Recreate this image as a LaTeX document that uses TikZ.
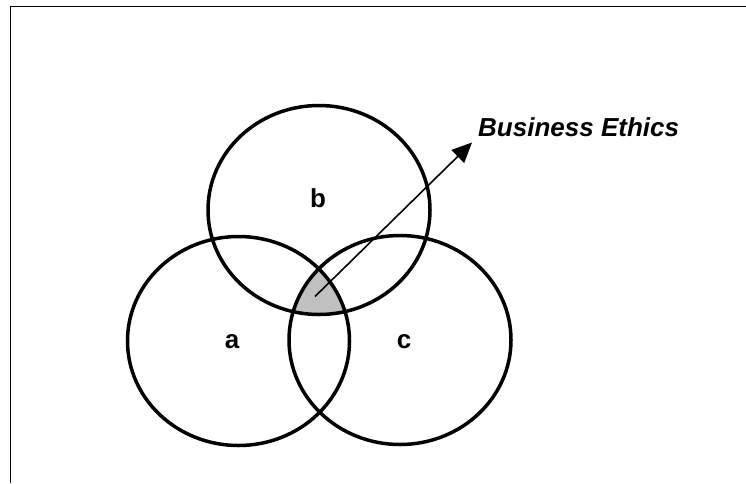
\documentclass[tikz,border=0pt]{standalone}
\usepackage{fontspec}
\setmainfont{Liberation Sans}
\usetikzlibrary{arrows.meta}
\begin{document}
\begin{tikzpicture}[x=1pt,y=-1pt,
  venn/.style={draw=black,line width=3.5pt},
  lbl/.style={font=\fontsize{26}{30}\selectfont\bfseries,inner sep=0pt,anchor=base},
  frameline/.style={line width=1.6pt},
  pointer/.style={line width=1.6pt,-{Triangle[length=20pt,width=18pt]}}]
\useasboundingbox (0,0) rectangle (746,483);
% frame
\coordinate (ftr) at (746,6.5);
\coordinate (ftl) at (10.5,6.5);
\coordinate (fbl) at (10.5,483);
\draw[frameline] (ftr) -- (ftl) -- (fbl);
% shaded intersection
\begin{scope}
  \clip (238.5,341) ellipse [x radius=111, y radius=104.5];
  \clip (319,210) ellipse [x radius=111, y radius=104.5];
  \fill[fill={rgb,255:red,192;green,192;blue,192}] (400,340) ellipse [x radius=111, y radius=104.5];
\end{scope}
% circles
\draw[venn] (238.5,341) ellipse [x radius=111, y radius=104.5];
\draw[venn] (319,210) ellipse [x radius=111, y radius=104.5];
\draw[venn] (400,340) ellipse [x radius=111, y radius=104.5];
% labels
\node[lbl] (la) at (232,348) {a};
\node[lbl] (lb) at (318,207) {b};
\node[lbl] (lc) at (404,348) {c};
\node[font=\fontsize{26}{30}\selectfont\bfseries\itshape,inner sep=0pt,anchor=base west] (be) at (478,136) {Business Ethics};
% arrow
\coordinate (start) at (315,296.5);
\coordinate (tip) at (472,142.5);
\draw[pointer] (start) -- (tip);
\end{tikzpicture}
\end{document}
